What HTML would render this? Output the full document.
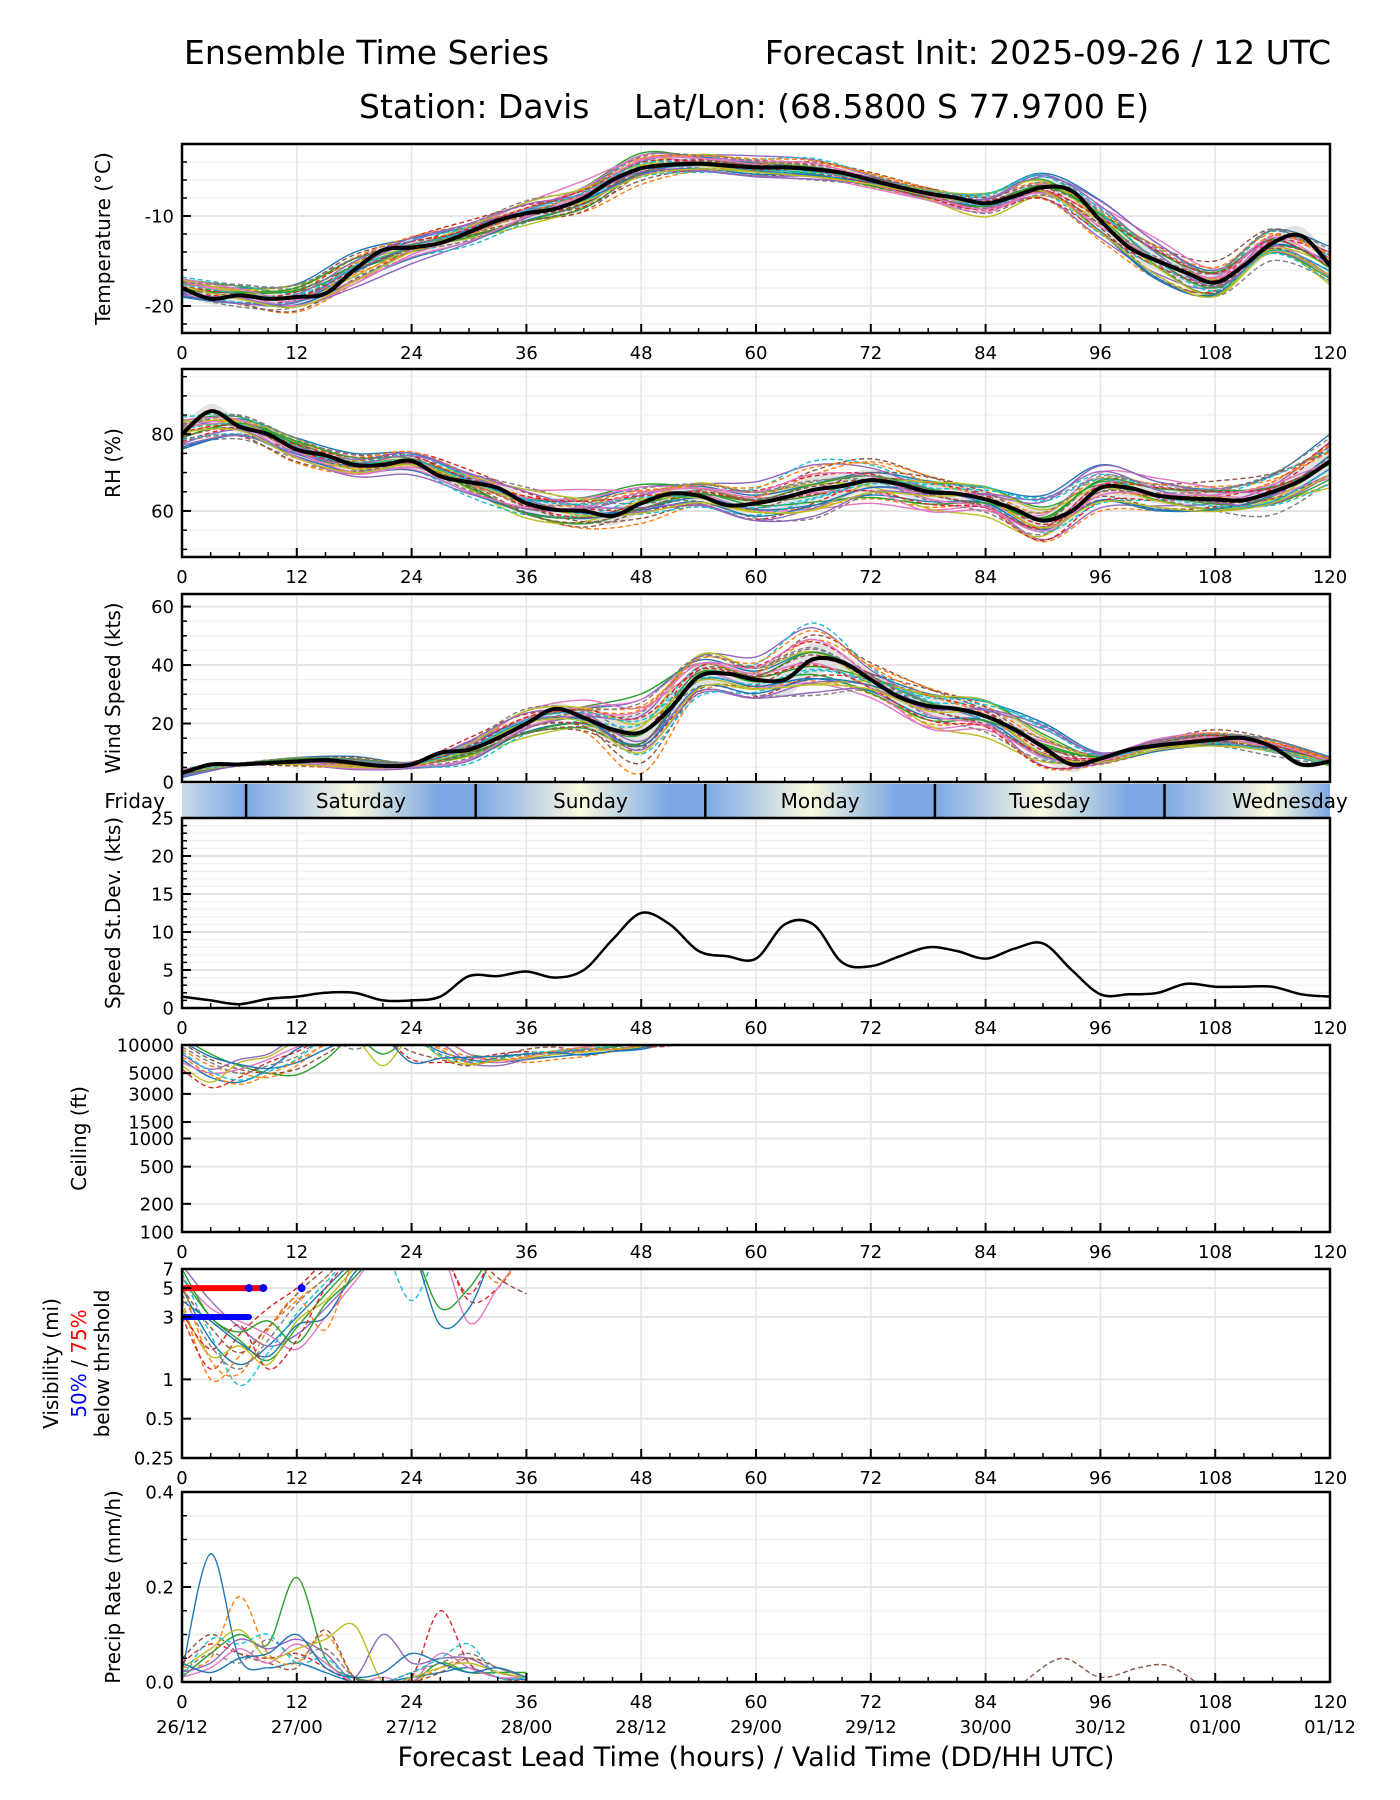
<!DOCTYPE html>
<html><head><meta charset="utf-8"><title>Ensemble Time Series - Davis</title>
<style>
html,body{margin:0;padding:0;background:#fff;}
svg{display:block;font-family:"DejaVu Sans","Liberation Sans",sans-serif;}
</style></head>
<body>
<svg id="chart" width="1400" height="1800" viewBox="0 0 1400 1800" xmlns="http://www.w3.org/2000/svg">
<rect width="1400" height="1800" fill="#fff"/>
<text x="184" y="64" font-size="33">Ensemble Time Series</text>
<text x="1331" y="64" font-size="33" text-anchor="end">Forecast Init: 2025-09-26 / 12 UTC</text>
<text x="359" y="118" font-size="33">Station: Davis</text>
<text x="634" y="118" font-size="33">Lat/Lon: (68.5800 S 77.9700 E)</text>
<text x="756" y="1766" font-size="27" text-anchor="middle">Forecast Lead Time (hours) / Valid Time (DD/HH UTC)</text>
</svg>
<script>
// ---------- DATA ----------
const hours3 = [0,3,6,9,12,15,18,21,24,27,30,33,36,39,42,45,48,51,54,57,60,63,66,69,72,75,78,81,84,87,90,93,96,99,102,105,108,111,114,117,120];
const hours6 = [0,6,12,18,24,30,36,42,48,54,60,66,72,78,84,90,96,102,108,114,120];
const tempMean = [-18,-19.2,-18.8,-19.2,-19,-18.6,-16,-13.8,-13.5,-13,-11.8,-10.5,-9.7,-9.2,-8,-6,-4.7,-4.3,-4.2,-4.4,-4.6,-4.6,-4.8,-5.2,-6,-6.8,-7.5,-8,-8.6,-7.8,-6.8,-7.2,-10.5,-13.5,-15,-16.3,-17.4,-15.5,-13,-12.2,-15.5];
const tempSpread = [0.8,1,1.2,1.3,1,1,1,1.2,1.2,0.8,0.8,0.8,0.6,0.6,1,1.2,1.5,1.6,1.5,1.3,1.5];
const rhMean = [80,86,82,80,76,74.5,72,72,73,69,67.5,66,62,60.3,60,58.7,62,64.5,64,61.5,62,63.5,65.5,66.5,68,67,65,64.5,63,60.5,57.5,60,66,66,64,63.3,63,62.8,65,68,73];
const rhSpread = [3,2.5,2.5,2,2,2.5,3,3.5,3.5,2.5,3.5,5,4,4,3,5,4,3,3,4,5];
const windMean = [3,6,6,6.5,7,7.5,6.5,5.5,6,10,11,15,20,25,22,18,17,25,36,37,35,35,42,41,35,29,26,25,22.5,18,12,6,8,11,12.5,13.5,14.5,15,12,6,7];
const windStd = [1.5,1,0.5,1.2,1.5,2,2,1,1,1.5,4.2,4.2,4.8,4,5,9,12.5,11,7.5,6.8,6.5,11,11,6,5.5,6.8,8,7.5,6.5,7.8,8.5,5,1.8,1.8,2,3.2,2.8,2.8,2.8,1.8,1.5];
const memberMult = [
 [0.5,0.8,1.2,1.5,1,0.6,0.4,0.8,1.2,1.0,0.6,0.3,0.5,0.7,1,1.3,1.5,1.2,0.9,1.1,1.4],
 [-0.6,-1,-1.4,-1.2,-0.8,-0.5,-0.9,-1.3,-1.5,-1,-0.6,-0.9,-1.2,-1,-0.7,-1.1,-1.5,-1.3,-1,-0.8,-1.2],
 [1.2,1,0.5,0,-0.5,-0.2,0.4,1,1.4,0.8,0.2,-0.3,0.1,0.6,1.1,0.7,0.2,-0.4,-0.8,-0.3,0.3],
 [-1.2,-0.8,-0.2,0.5,1.1,1.3,0.9,0.2,-0.5,-0.9,-1.2,-0.7,0,0.6,0.3,-0.2,-0.8,-1.2,-0.6,0.2,0.8],
 [0.2,-0.3,-0.8,-1.5,-1.8,-1.2,-0.5,0.1,0.6,1.2,1.6,1.3,0.8,0.2,-0.4,-1,-1.3,-0.9,-0.3,0.4,1],
 [-0.3,0.4,0.9,1.3,0.7,-0.1,-0.8,-1.2,-0.6,0,0.5,1,1.4,1,0.4,0,0.5,1,1.6,1.2,0.5],
 [0.9,0.3,-0.4,-0.9,-0.3,0.5,1.2,1.6,0.9,0.2,-0.5,-1,-1.5,-1.2,-0.6,0.3,1,1.5,1,-0.1,-0.9],
 [-0.9,-1.3,-0.9,-0.3,0.3,0.9,1.4,0.7,0,-0.6,-1.1,-1.5,-0.9,-0.2,0.5,1.1,0.6,-0.2,-1,-1.5,-1.1],
 [0,0.6,1.1,0.6,0,-0.7,-1.3,-0.8,0.2,1.3,0.8,0.3,-0.4,-1.1,-1.5,-0.8,0,0.7,0.2,-0.5,-1.4],
 [1.5,1.1,0.3,-0.6,-1.1,-1.5,-1,-0.3,0.3,0.6,1.1,1.5,1,0.3,-0.3,-0.6,-1,-0.4,0.4,1,0.6]
];
const ceilHours = [0,3,6,9,12,15,18,21,24,27,30,33,36,39,42,45,48,51,54];
const ceilMembers = [
 [7000,4500,4000,5500,9000,12000,12000,12000,12000,8500,7000,6500,7000,7500,8000,8500,9000,10500,12000],
 [9000,6000,5000,4500,6000,10500,12000,12000,12000,9500,7500,7000,6500,7000,7500,8500,9500,11000,12000],
 [12000,8000,6000,5000,4800,7000,12000,8000,12000,12000,8000,7500,8000,8500,9000,9500,10500,12000,12000],
 [5500,3500,4500,6500,8500,12000,12000,12000,7000,6500,7000,8000,8500,8000,8500,9000,9500,9800,12000],
 [8000,5500,7000,8000,12000,12000,12000,12000,12000,10500,6500,6000,7000,8000,9000,9000,10000,12000,12000],
 [10500,7000,5500,5000,5500,8000,12000,12000,8500,7000,6000,7500,9000,9500,8500,9000,9500,10200,12000],
 [6500,5000,5500,7000,9500,12000,12000,12000,12000,12000,8000,6500,7500,8500,9500,10000,10500,12000,12000],
 [9500,6500,5000,6000,7500,12000,9000,12000,12000,8000,6800,7200,7800,8200,8800,9200,9800,12000,12000],
 [6000,4000,6500,7500,11000,12000,12000,6000,12000,7500,6200,6800,7300,7900,8400,9000,9600,12000,12000],
 [8500,5200,4200,5200,7000,12000,12000,12000,12000,7800,6600,7000,8200,8600,9100,9700,10400,12000,12000],
 [11000,7500,6200,5600,6500,9000,12000,12000,6500,7200,7400,7600,8000,8300,7800,8600,9300,12000,12000],
 [7500,4800,3800,4800,6800,10000,12000,12000,12000,9000,6400,6900,7500,8700,9300,8900,9900,12000,12000]
];
const visHours = [0,3,6,9,12,15,18,21,24,27,30,33,36];
const visMembers = [
 [5,2,1.3,1.8,3,5,8,10,10,10,10,10,10],
 [4,1.0,1.5,2.5,4,6,10,10,10,10,10,10,10],
 [6,3,2,1.4,2.5,4.5,7.5,10,10,3.5,5,10,10],
 [3,1.2,2.2,3.5,5,8,10,10,10,10,4,5,10],
 [7.5,4,2.5,1.8,2.2,3.5,6,10,10,10,10,10,10],
 [5,2.5,1.6,2.5,4.5,7,10,10,10,10,10,6,4.5],
 [6,3.5,2.8,2.2,1.7,3,5.5,10,10,10,2.7,5,10],
 [4.5,1.8,1.2,2,3.8,6,10,10,10,10,10,10,10],
 [3.5,1.5,1.8,1.3,2.8,4,7,10,10,10,10,10,10],
 [6.5,2.2,0.9,1.6,3.2,5.5,9,10,4,10,10,10,10],
 [4,2.8,1.9,1.5,2.6,3,6.5,10,10,2.6,3.5,10,10],
 [5.5,1.4,1.1,2.4,4.2,2.4,8,10,10,10,10,5.5,10],
 [7,3,2.3,2.8,1.9,3.8,6,10,10,10,10,10,10],
 [3.2,1.7,2.6,1.2,2,5,8.5,10,10,10,4.5,10,10]
];
const vis75Start = 0.3, vis75End = 8.5;
const vis50Start = 0.3, vis50End = 7;
const precipHours = [0,3,6,9,12,15,18,21,24,27,30,33,36];
const precipMembers = [
 [0.02,0.27,0.05,0.03,0.04,0.02,0,0,0.01,0.02,0.03,0.01,0.005],
 [0.03,0.05,0.18,0.06,0.04,0.1,0.01,0,0,0.03,0.05,0.02,0.01],
 [0.01,0.06,0.1,0.08,0.22,0.05,0.01,0,0,0.04,0.02,0.02,0.02],
 [0.04,0.08,0.06,0.05,0.06,0.03,0,0,0.01,0.15,0.04,0.01,0],
 [0.02,0.04,0.09,0.07,0.09,0.06,0.01,0.1,0.04,0.05,0.05,0.02,0.01],
 [0.05,0.1,0.06,0.04,0.03,0.11,0.01,0,0,0.02,0.05,0.03,0.01],
 [0.01,0.03,0.07,0.04,0.08,0.04,0,0.01,0,0.06,0.03,0.01,0.01],
 [0.02,0.06,0.04,0.09,0.05,0.07,0.01,0,0.02,0.04,0.06,0.03,0.01],
 [0.03,0.07,0.11,0.05,0.07,0.09,0.12,0,0.01,0.03,0.04,0.02,0.01],
 [0.01,0.09,0.08,0.1,0.04,0.05,0,0,0.02,0.05,0.08,0.01,0.01],
 [0.04,0.02,0.05,0.06,0.1,0.03,0.01,0.02,0.06,0.04,0.02,0.03,0.01]
];
const precipLateHours = [88,92,96,100,103,106];
const precipLate = [0,0.05,0.01,0.03,0.035,0];
const xTicks = [0,12,24,36,48,60,72,84,96,108,120];
const dateLabels = ["26/12","27/00","27/12","28/00","28/12","29/00","29/12","30/00","30/12","01/00","01/12"];
const dayNames = ["Friday","Saturday","Sunday","Monday","Tuesday","Wednesday"];
const dayBounds = [-17.3,6.7,30.7,54.7,78.7,102.7,126.7];

// ---------- DRAWING ----------
const NS = "http://www.w3.org/2000/svg";
const svg = document.getElementById('chart');
const X0 = 182, X1 = 1330;
const xs = h => X0 + (h / 120) * (X1 - X0);
const colors = ["#1f77b4","#ff7f0e","#2ca02c","#d62728","#9467bd","#8c564b","#e377c2","#7f7f7f","#bcbd22","#17becf"];
function mk(tag, attrs, parent) {
  const e = document.createElementNS(NS, tag);
  for (const k in attrs) e.setAttribute(k, attrs[k]);
  (parent || svg).appendChild(e);
  return e;
}
function smooth(pts) {
  if (!pts.length) return "";
  let d = "M" + pts[0][0].toFixed(1) + "," + pts[0][1].toFixed(1);
  for (let i = 0; i < pts.length - 1; i++) {
    const p0 = pts[i - 1] || pts[i], p1 = pts[i], p2 = pts[i + 1], p3 = pts[i + 2] || p2;
    const c1x = p1[0] + (p2[0] - p0[0]) / 6, c1y = p1[1] + (p2[1] - p0[1]) / 6;
    const c2x = p2[0] - (p3[0] - p1[0]) / 6, c2y = p2[1] - (p3[1] - p1[1]) / 6;
    d += "C" + c1x.toFixed(1) + "," + c1y.toFixed(1) + " " + c2x.toFixed(1) + "," + c2y.toFixed(1) + " " + p2[0].toFixed(1) + "," + p2[1].toFixed(1);
  }
  return d;
}
let clipId = 0;
function panel(name, top, bot, ys, yTicks, yLabels, minorY, label, noXLabels) {
  const g = mk('g', {});
  
  
  const cid = 'clip' + (clipId++);
  const cp = mk('clipPath', { id: cid }, g);
  mk('rect', { x: X0, y: top, width: X1 - X0, height: bot - top }, cp);
  minorY.forEach(v => { const y = ys(v); mk('line', { x1: X0, x2: X1, y1: y, y2: y, stroke: '#f2f2f2', 'stroke-width': 1.5 }, g); });
  yTicks.forEach(v => { const y = ys(v); mk('line', { x1: X0, x2: X1, y1: y, y2: y, stroke: '#e4e4e4', 'stroke-width': 2 }, g); });
  xTicks.forEach(h => { mk('line', { x1: xs(h), x2: xs(h), y1: top, y2: bot, stroke: '#e4e4e4', 'stroke-width': 1.5 }, g); });
  const plot = mk('g', { 'clip-path': 'url(#' + cid + ')' }, g);
  
  
  const frame = () => {
    mk('rect', { x: X0, y: top, width: X1 - X0, height: bot - top, fill: 'none', stroke: '#000', 'stroke-width': 2.5 }, g);
    for (let h = 0; h <= 120; h += 3) {
      const len = h % 12 === 0 ? 9 : 5;
      mk('line', { x1: xs(h), x2: xs(h), y1: bot, y2: bot - len, stroke: '#000', 'stroke-width': h % 12 === 0 ? 2 : 1.5 }, g);
    }
    minorY.forEach(v => { const y = ys(v); mk('line', { x1: X0, x2: X0 + 5, y1: y, y2: y, stroke: '#000', 'stroke-width': 1.5 }, g); });
    yTicks.forEach((v, i) => {
      const y = ys(v);
      mk('line', { x1: X0, x2: X0 + 9, y1: y, y2: y, stroke: '#000', 'stroke-width': 2 }, g);
      const t = mk('text', { x: X0 - 8, y: y + 6.5, 'font-size': 18, 'text-anchor': 'end' }, g);
      
      
      t.textContent = yLabels[i];
    });
    if (!noXLabels) xTicks.forEach(h => {
      const t = mk('text', { x: xs(h), y: bot + 26, 'font-size': 18, 'text-anchor': 'middle' }, g);
      
      
      t.textContent = h;
    });
    if (label) {
      const cy = (top + bot) / 2;
      const t = mk('text', { x: 0, y: 0, 'font-size': 20, 'text-anchor': 'middle', transform: 'translate(' + label.x + ',' + cy + ') rotate(-90)' }, g);
      
      
      t.textContent = label.text;
    }
  };
  return { g, plot, frame, ys };
}
function drawMember(plot, pts, i, name) {
  const p = mk('path', { d: smooth(pts), fill: 'none', stroke: colors[i % 10], 'stroke-width': 1.4, 'stroke-dasharray': i % 2 ? '5,3' : 'none' }, plot);
  
  
}
function ensemblePanel(name, top, bot, ymin, ymax, yTicks, minorY, mean, spread6, spread3, label, memScale, noXLabels) {
  const ys = v => bot - (v - ymin) / (ymax - ymin) * (bot - top);
  const P = panel(name, top, bot, ys, yTicks, yTicks.map(String), minorY, label, noXLabels);
  const sp3 = i => spread3 ? spread3[i] : (i % 2 ? (spread6[(i - 1) / 2] + spread6[(i + 1) / 2]) / 2 : spread6[i / 2]);
  const upper = hours3.map((h, i) => [xs(h), ys(mean[i] + 0.7 * memScale * sp3(i))]);
  const lower = hours3.map((h, i) => [xs(h), ys(mean[i] - 0.7 * memScale * sp3(i))]).reverse();
  const band = mk('path', { d: smooth(upper) + smooth(lower).replace('M', 'L') + 'Z', fill: '#d8d8d8', opacity: 0.75 }, P.plot);
  
  
  for (let k = 0; k < 30; k++) {
    const mult = memberMult[k % 10];
    const set = Math.floor(k / 10);
    const pts = hours6.map((h, j) => {
      let m;
      if (set === 0) m = mult[j];
      else if (set === 1) m = -0.8 * mult[20 - j];
      else m = 0.6 * memberMult[(k + 3) % 10][j] - 0.4 * mult[20 - j];
      return [xs(h), ys(mean[j * 2] + memScale * m * sp3(j * 2))];
    });
    drawMember(P.plot, pts, k, name + '-member-line');
  }
  const ml = mk('path', { d: smooth(hours3.map((h, i) => [xs(h), ys(mean[i])])), fill: 'none', stroke: '#000', 'stroke-width': 4 }, P.plot);
  
  
  P.frame();
}
function range(a, b, s) { const r = []; for (let v = a; v <= b + 1e-9; v += s) r.push(+v.toFixed(4)); return r; }

ensemblePanel('temperature', 144, 333, -23, -2, [-10, -20], range(-22, -4, 2), tempMean, tempSpread, null, { x: 110, text: 'Temperature (°C)' }, 1, false);
ensemblePanel('rh', 369, 557, 48, 97, [60, 80], range(50, 95, 5), rhMean, rhSpread, null, { x: 120, text: 'RH (%)' }, 1, false);
ensemblePanel('wind-speed', 594, 782, 0, 64.3, [0, 20, 40, 60], range(0, 64, 5), windMean, null, windStd, { x: 120, text: 'Wind Speed (kts)' }, 0.75, true);

// day band
(function () {
  const g = mk('g', {});
  
  
  const defs = mk('defs', {}, g);
  const grad = mk('linearGradient', { id: 'dayGrad', gradientUnits: 'userSpaceOnUse', x1: X0, x2: X1, y1: 0, y2: 0 }, defs);
  const blue = '#7ba8e4', yel = '#fbfbe0';
  mk('stop', { offset: 0, 'stop-color': '#c9dbe8' }, grad);
  for (let d = 1; d < dayBounds.length - 1; d++) {
    const b = dayBounds[d];
    [[b, blue], [b + 3, '#9dbde6'], [b + 11, yel], [b + 20, blue], [b + 24, blue]].forEach(s => {
      const off = Math.min(1, Math.max(0, s[0] / 120));
      mk('stop', { offset: off, 'stop-color': s[1] }, grad);
    });
  }
  mk('rect', { x: X0, y: 784, width: X1 - X0, height: 33, fill: 'url(#dayGrad)' }, g);
  dayBounds.forEach(b => {
    if (b > 0 && b < 120) mk('line', { x1: xs(b), x2: xs(b), y1: 784, y2: 817, stroke: '#000', 'stroke-width': 2.5 }, g);
  });
  dayNames.forEach((n, i) => {
    let cx = xs((dayBounds[i] + dayBounds[i + 1]) / 2);
    let anchor = 'middle';
    if (i === 0) { cx = 165; anchor = 'end'; }
    if (i === dayNames.length - 1) { cx = 1290; }
    const t = mk('text', { x: cx, y: 808, 'font-size': 20, 'text-anchor': anchor }, g);
    
    
    t.textContent = n;
  });
})();

// std dev panel
(function () {
  const top = 818, bot = 1008;
  const ys = v => bot - v / 25 * (bot - top);
  const P = panel('speed-stdev', top, bot, ys, [0, 5, 10, 15, 20, 25], ['0', '5', '10', '15', '20', '25'], range(1, 24, 1), { x: 120, text: 'Speed St.Dev. (kts)' }, false);
  const l = mk('path', { d: smooth(hours3.map((h, i) => [xs(h), ys(windStd[i])])), fill: 'none', stroke: '#000', 'stroke-width': 2.5 }, P.plot);
  
  
  P.frame();
})();

// ceiling
(function () {
  const top = 1045, bot = 1232;
  const ys = v => bot - (Math.log10(v) - 2) / 2 * (bot - top);
  const ticks = [10000, 5000, 3000, 1500, 1000, 500, 200, 100];
  const P = panel('ceiling', top, bot, ys, ticks, ticks.map(String), [], { x: 86, text: 'Ceiling (ft)' }, false);
  ceilMembers.forEach((m, i) => drawMember(P.plot, ceilHours.map((h, j) => [xs(h), ys(m[j])]), i, 'ceiling-member-line'));
  P.frame();
})();

// visibility
(function () {
  const top = 1269, bot = 1458;
  const lo = Math.log10(0.25), hi = Math.log10(7);
  const ys = v => bot - (Math.log10(v) - lo) / (hi - lo) * (bot - top);
  const ticks = [7, 5, 3, 1, 0.5, 0.25];
  const P = panel('visibility', top, bot, ys, ticks, ticks.map(String), [], null, false);
  visMembers.forEach((m, i) => drawMember(P.plot, visHours.map((h, j) => [xs(h), ys(m[j])]), i, 'visibility-member-line'));
  const r = mk('line', { x1: xs(vis75Start), x2: xs(vis75End), y1: ys(5), y2: ys(5), stroke: '#ff0000', 'stroke-width': 6, 'stroke-linecap': 'round' }, P.plot);
  
  
  [7, 8.5, 12.5].forEach(h => {
    const c = mk('circle', { cx: xs(h), cy: ys(5), r: 4, fill: '#0000ff' }, P.plot);
    
    
  });
  const b = mk('line', { x1: xs(vis50Start), x2: xs(vis50End), y1: ys(3), y2: ys(3), stroke: '#0000ff', 'stroke-width': 6, 'stroke-linecap': 'round' }, P.plot);
  
  
  P.frame();
  const cy = (top + bot) / 2;
  const t1 = mk('text', { 'font-size': 20, 'text-anchor': 'middle', transform: 'translate(58,' + cy + ') rotate(-90)' });
  
  
  t1.textContent = 'Visibility (mi)';
  const t2 = mk('text', { 'font-size': 20, 'text-anchor': 'middle', transform: 'translate(86,' + cy + ') rotate(-90)' });
  
  
  const s1 = mk('tspan', { fill: '#0000ff' }, t2); s1.textContent = '50%';
  const s2 = mk('tspan', { fill: '#000' }, t2); s2.textContent = ' / ';
  const s3 = mk('tspan', { fill: '#ff0000' }, t2); s3.textContent = '75%';
  const t3 = mk('text', { 'font-size': 20, 'text-anchor': 'middle', transform: 'translate(109,' + cy + ') rotate(-90)' });
  
  
  t3.textContent = 'below thrshold';
})();

// precip
(function () {
  const top = 1492, bot = 1682;
  const ys = v => bot - v / 0.4 * (bot - top);
  const P = panel('precip', top, bot, ys, [0, 0.2, 0.4], ['0.0', '0.2', '0.4'], [0.05, 0.1, 0.15, 0.25, 0.3, 0.35], { x: 120, text: 'Precip Rate (mm/h)' }, false);
  precipMembers.forEach((m, i) => drawMember(P.plot, precipHours.map((h, j) => [xs(h), ys(m[j])]), i, 'precip-member-line'));
  drawMember(P.plot, precipLateHours.map((h, j) => [xs(h), ys(precipLate[j])]), 5, 'precip-member-line');
  P.frame();
  xTicks.forEach((h, i) => {
    const t = mk('text', { x: xs(h), y: 1733, 'font-size': 18, 'text-anchor': 'middle' });
    
    
    t.textContent = dateLabels[i];
  });
})();
</script>
</body></html>
